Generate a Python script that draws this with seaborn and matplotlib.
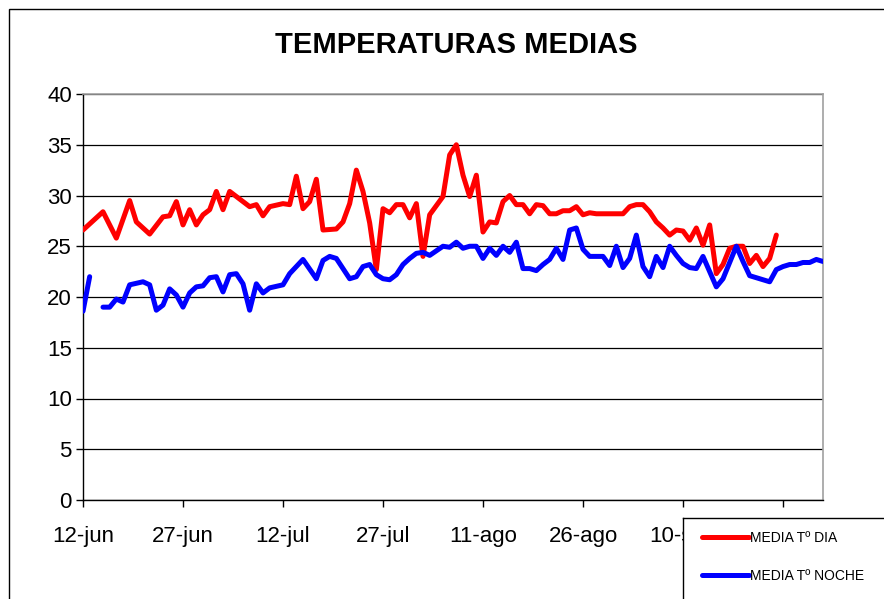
import numpy as np
import pandas as pd
import matplotlib
matplotlib.use("Agg")
import matplotlib.pyplot as plt
from matplotlib.patches import Rectangle
import seaborn as sns

# ==========================
# Data (day offset from 12-jun, mean temperature)
# ==========================
dia_days = [0, 3, 5, 7, 8, 10, 12, 13, 14, 15, 16, 17, 18, 19, 20, 21, 22, 25, 26, 27,
            28, 30, 31, 32, 33, 34, 35, 36, 38, 39, 40, 41, 42, 43, 44, 45, 46, 47, 48, 49,
            50, 51, 52, 54, 55, 56, 57, 58, 59, 60, 61, 62, 63, 64, 65, 66, 67, 68, 69, 70,
            71, 72, 73, 74, 75, 76, 77, 78, 81, 82, 83, 84, 85, 86, 87, 88, 89, 90, 91, 92,
            93, 94, 95, 96, 97, 98, 99, 100, 101, 102, 103, 104]
dia_temp = [26.6, 28.4, 25.8, 29.5, 27.4, 26.2, 27.9, 28.0, 29.4, 27.1, 28.6, 27.1, 28.1, 28.6, 30.4, 28.6, 30.4, 28.9, 29.1, 28.0,
            28.9, 29.2, 29.1, 31.9, 28.7, 29.4, 31.6, 26.6, 26.7, 27.4, 29.2, 32.5, 30.4, 27.3, 22.7, 28.7, 28.3, 29.1, 29.1, 27.8,
            29.2, 24.0, 28.1, 29.9, 34.0, 35.0, 32.0, 29.9, 32.0, 26.4, 27.4, 27.3, 29.4, 30.0, 29.1, 29.1, 28.2, 29.1, 29.0, 28.2,
            28.2, 28.5, 28.5, 28.9, 28.1, 28.3, 28.2, 28.2, 28.2, 28.9, 29.1, 29.1, 28.4, 27.4, 26.8, 26.1, 26.6, 26.5, 25.6, 26.8,
            25.1, 27.1, 22.3, 23.2, 24.8, 25.0, 25.0, 23.3, 24.1, 23.0, 23.8, 26.1]

# night series has a missing day after the first two values
noche_days_a = [0, 1]
noche_temp_a = [18.6, 22.0]
noche_days_b = [3, 4, 5, 6, 7, 9, 10, 11, 12, 13, 14, 15, 16, 17, 18, 19, 20, 21, 22, 23,
                24, 25, 26, 27, 28, 30, 31, 33, 35, 36, 37, 38, 39, 40, 41, 42, 43, 44, 45, 46,
                47, 48, 49, 50, 51, 52, 54, 55, 56, 57, 58, 59, 60, 61, 62, 63, 64, 65, 66, 67,
                68, 69, 70, 71, 72, 73, 74, 75, 76, 77, 78, 79, 80, 81, 82, 83, 84, 85, 86, 87,
                88, 89, 90, 91, 92, 93, 95, 96, 98, 99, 100, 101, 103, 104, 105, 106, 107, 108, 109, 110,
                111]
noche_temp_b = [19.0, 19.0, 19.8, 19.5, 21.2, 21.5, 21.2, 18.7, 19.2, 20.8, 20.2, 19.0, 20.4, 21.0, 21.1, 21.9, 22.0, 20.5, 22.2, 22.3,
                21.3, 18.7, 21.3, 20.4, 20.9, 21.2, 22.3, 23.7, 21.8, 23.6, 24.0, 23.8, 22.8, 21.8, 22.0, 23.0, 23.2, 22.2, 21.8, 21.7,
                22.2, 23.2, 23.8, 24.3, 24.4, 24.1, 25.0, 24.9, 25.4, 24.8, 25.0, 25.0, 23.8, 24.8, 24.1, 25.0, 24.4, 25.4, 22.8, 22.8,
                22.6, 23.2, 23.7, 24.8, 23.7, 26.6, 26.8, 24.7, 24.0, 24.0, 24.0, 23.1, 25.0, 22.9, 23.8, 26.1, 23.0, 22.0, 24.0, 22.9,
                25.0, 24.1, 23.3, 22.9, 22.8, 24.0, 21.0, 21.8, 25.0, 23.5, 22.1, 21.9, 21.5, 22.7, 23.0, 23.2, 23.2, 23.4, 23.4, 23.7,
                23.5]

# last tick (25-sep) sits under the legend box in the original, so no label shown
tick_days = [0, 15, 30, 45, 60, 75, 90, 105]
tick_labels = ["12-jun", "27-jun", "12-jul", "27-jul", "11-ago", "26-ago", "10-sep", ""]

df_dia = pd.DataFrame({"dia": dia_days, "temp": dia_temp, "tramo": 0})
df_noche = pd.concat([
    pd.DataFrame({"dia": noche_days_a, "temp": noche_temp_a, "tramo": 0}),
    pd.DataFrame({"dia": noche_days_b, "temp": noche_temp_b, "tramo": 1}),
], ignore_index=True)

# ==========================
# Plot
# ==========================
sns.set_style("white")
plt.rcParams["font.family"] = ["Liberation Sans", "DejaVu Sans"]
plt.rcParams["text.color"] = "black"

fig = plt.figure(figsize=(8.84, 5.99), dpi=100)
ax = fig.add_axes([83 / 884, 1 - 500 / 599, 740 / 884, 406 / 599])
ax.set_zorder(1)

sns.lineplot(data=df_dia, x="dia", y="temp", units="tramo", estimator=None,
             color="#FF0000", lw=3.6, ax=ax, zorder=3)
sns.lineplot(data=df_noche, x="dia", y="temp", units="tramo", estimator=None,
             color="#0000FF", lw=3.6, ax=ax, zorder=3)

ax.set_xlim(0, 111)
ax.set_ylim(0, 40)
ax.set_yticks(range(0, 41, 5))
ax.set_xticks(tick_days)
ax.set_xticklabels(tick_labels)
ax.set_xlabel("")
ax.set_ylabel("")
ax.yaxis.grid(True, color="black", lw=0.9)
ax.set_axisbelow(True)

for side in ["left", "bottom"]:
    ax.spines[side].set_color("black")
    ax.spines[side].set_linewidth(1.0)
for side in ["top", "right"]:
    ax.spines[side].set_color("#A0A0A0")
    ax.spines[side].set_linewidth(1.2)

ax.tick_params(axis="both", direction="out", length=5, width=1, color="black",
               labelcolor="black", labelsize=16, left=True, bottom=True)
ax.tick_params(axis="x", pad=14)
ax.tick_params(axis="y", pad=3)

fig.text(456 / 884, 1 - 45 / 599, "TEMPERATURAS MEDIAS", ha="center", va="center",
         fontsize=21, fontweight="bold", color="black")

# outer chart border
fig.add_artist(Rectangle((9 / 884, -0.05), 1.05, 1 - 9 / 599 + 0.05,
                         transform=fig.transFigure, fill=False, edgecolor="black",
                         lw=1.0, zorder=0))

# legend box sticking out of the bottom right corner, drawn over the tick labels
ax_leg = fig.add_axes([683 / 884, -0.05, 0.3, 1 - 518 / 599 + 0.05])
ax_leg.set_zorder(5)
ax_leg.set_xticks([])
ax_leg.set_yticks([])
for s in ax_leg.spines.values():
    s.set_color("black")
    s.set_linewidth(1.0)
handles = [plt.Line2D([], [], color="#FF0000", lw=3.6),
           plt.Line2D([], [], color="#0000FF", lw=3.6)]
ax_leg.legend(handles, ["MEDIA Tº DIA", "MEDIA Tº NOCHE"],
              loc="upper left", bbox_to_anchor=(689 / 884, 1 - 518 / 599),
              bbox_transform=fig.transFigure,
              frameon=False, fontsize=10, handlelength=3.4, handletextpad=0.1,
              labelspacing=1.75)

fig.savefig("out.png", dpi=100, facecolor="white")
